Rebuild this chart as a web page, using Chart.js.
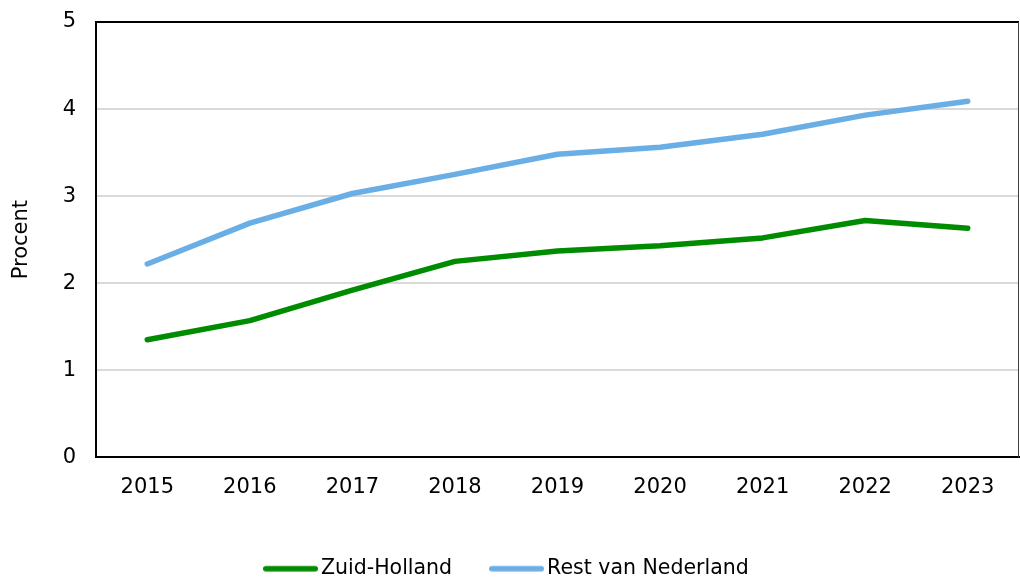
<!DOCTYPE html>
<html>
<head>
<meta charset="utf-8">
<script src="https://cdn.jsdelivr.net/npm/chart.js@4"></script>
<style>
  html, body { margin: 0; padding: 0; background: #fff; }
  #wrap { width: 1020px; height: 578px; }
</style>
</head>
<body>
<div id="wrap"><canvas id="chart"></canvas></div>
<script>
const years = ['2015', '2016', '2017', '2018', '2019', '2020', '2021', '2022', '2023'];
const zuidHolland = [1.35, 1.57, 1.92, 2.25, 2.37, 2.43, 2.52, 2.72, 2.63];
const restNederland = [2.22, 2.69, 3.03, 3.25, 3.48, 3.56, 3.71, 3.93, 4.09];
const yTicks = [0, 1, 2, 3, 4, 5];

const FONT = 'Verdana, "DejaVu Sans", sans-serif';
const SIZE = 21;
const LEGEND_SIZE = 20.5;

// legend swatch: a short thick line with round ends
const makeSwatch = (color) => {
    const c = document.createElement('canvas');
    c.width = 55;
    c.height = 8;
    const g = c.getContext('2d');
    g.strokeStyle = color;
    g.lineWidth = 5.5;
    g.lineCap = 'round';
    g.beginPath();
    g.moveTo(2.75, 4);
    g.lineTo(52.25, 4);
    g.stroke();
    return c;
};

// top and right edge of the plot box
const frame = {
    id: 'frame',
    afterDatasetsDraw(chart) {
        const { ctx, chartArea: a } = chart;
        ctx.save();
        ctx.strokeStyle = '#000';
        ctx.lineWidth = 2;
        ctx.beginPath();
        ctx.moveTo(a.left, a.top);
        ctx.lineTo(a.right, a.top);
        ctx.stroke();
        ctx.strokeStyle = '#404040';
        ctx.lineWidth = 1;
        ctx.beginPath();
        ctx.moveTo(a.right - 0.5, a.top);
        ctx.lineTo(a.right - 0.5, a.bottom);
        ctx.stroke();
        ctx.restore();
    }
};

const ctx = document.getElementById('chart').getContext('2d');
new Chart(ctx, {
    type: 'line',
    data: {
        labels: years,
        datasets: [
            {
                label: 'Zuid-Holland',
                data: zuidHolland,
                borderColor: '#008c00',
                backgroundColor: '#008c00',
                borderWidth: 5.5,
                borderCapStyle: 'round',
                borderJoinStyle: 'round',
                pointRadius: 0,
                tension: 0
            },
            {
                label: 'Rest van Nederland',
                data: restNederland,
                borderColor: '#6aaee6',
                backgroundColor: '#6aaee6',
                borderWidth: 5.5,
                borderCapStyle: 'round',
                borderJoinStyle: 'round',
                pointRadius: 0,
                tension: 0
            }
        ]
    },
    options: {
        responsive: true,
        maintainAspectRatio: false,
        animation: false,
        layout: { padding: { top: 22, right: 1, left: 0, bottom: -11 } },
        plugins: {
            tooltip: { enabled: false },
            legend: {
                position: 'bottom',
                labels: {
                    color: '#000',
                    font: { family: FONT, size: LEGEND_SIZE },
                    usePointStyle: true,
                    pointStyleWidth: 40.5,
                    boxHeight: 8,
                    padding: 44.25,
                    generateLabels(chart) {
                        return chart.data.datasets.map((ds, i) => ({
                            text: ds.label,
                            datasetIndex: i,
                            pointStyle: makeSwatch(ds.borderColor),
                            strokeStyle: ds.borderColor,
                            fillStyle: ds.borderColor,
                            lineWidth: 0,
                            fontColor: '#000'
                        }));
                    }
                }
            }
        },
        scales: {
            x: {
                offset: true,
                grid: { display: false, drawTicks: false },
                border: { display: true, color: '#000', width: 2 },
                ticks: {
                    color: '#000',
                    font: { family: FONT, size: SIZE },
                    padding: 18,
                    maxRotation: 0
                },
                afterFit(scale) { scale.height = 57; }
            },
            y: {
                min: 0,
                max: 5,
                afterBuildTicks(scale) { scale.ticks = yTicks.map(v => ({ value: v })); },
                grid: { color: '#d9d9d9', lineWidth: 2, drawTicks: false },
                border: { display: true, color: '#000', width: 2 },
                ticks: {
                    color: '#000',
                    font: { family: FONT, size: SIZE },
                    padding: 20
                },
                title: {
                    display: true,
                    text: 'Procent',
                    color: '#000',
                    font: { family: FONT, size: SIZE },
                    padding: { top: 9, bottom: 20 }
                },
                afterFit(scale) {
                    scale.width = 96;
                    scale.paddingTop = 0;
                    scale.paddingBottom = 0;
                }
            }
        }
    },
    plugins: [frame]
});
</script>
</body>
</html>
